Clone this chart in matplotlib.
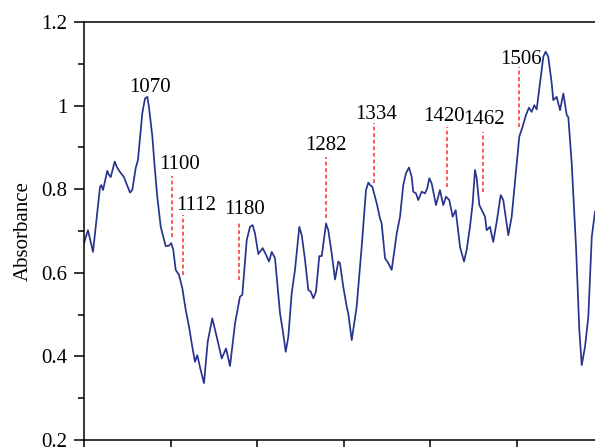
import numpy as np
import matplotlib.pyplot as plt
from matplotlib.ticker import MultipleLocator, FuncFormatter

plt.rcParams['font.family'] = ['Liberation Serif', 'DejaVu Serif']

# FTIR absorbance spectrum
wavenumber = [1000, 1004.6, 1010.4, 1018.5, 1020, 1022, 1026.9, 1028.9, 1030.9, 1035.5,
              1038.5, 1042.4, 1046.2, 1048.2, 1053.2, 1055.8, 1059.8, 1062.4, 1067.4, 1070.5,
              1073.2, 1075.1, 1079, 1081.7, 1084.7, 1088.7, 1094.4, 1098.3, 1100.9, 1103.2,
              1106, 1109.8, 1113.6, 1117.6, 1121.4, 1125.2, 1128.3, 1131, 1134.9, 1138.7,
              1143, 1148.3, 1153.4, 1159.2, 1164.2, 1168.8, 1174.6, 1180.3, 1183, 1188.1,
              1191.9, 1195, 1197.7, 1201.5, 1206.6, 1210.4, 1213.9, 1217, 1220.8, 1226.6,
              1229.7, 1233.2, 1236.2, 1240.1, 1243.9, 1248.9, 1251.7, 1255.5, 1259.3, 1262.1,
              1265.1, 1268.2, 1272, 1274.8, 1279.8, 1282.4, 1286.3, 1290.2, 1294, 1295.9,
              1299.7, 1303.7, 1305.5, 1309.5, 1315.2, 1321, 1326, 1328.7, 1330.6, 1333.3,
              1338.4, 1342.2, 1344.1, 1348, 1351.8, 1355.7, 1361.5, 1365.3, 1369.1, 1372.2,
              1375.7, 1378.8, 1380.6, 1383.8, 1386.4, 1390.4, 1394.2, 1396.8, 1399.2, 1401.9,
              1406.9, 1411.5, 1415.3, 1418.5, 1422.3, 1426.2, 1429.7, 1434.7, 1439.3, 1442.4,
              1446.2, 1449.3, 1452, 1454, 1457, 1460.9, 1463.6, 1465.5, 1469.3, 1473.1,
              1477.1, 1481.7, 1484.7, 1490.5, 1494.4, 1500.2, 1503.2, 1507.1, 1511, 1514.4,
              1517.5, 1520.5, 1523.3, 1527.1, 1531, 1533.7, 1536.7, 1540.7, 1542.5, 1546.4,
              1550.3, 1554.1, 1558, 1559.9, 1563.8, 1568.8, 1572.6, 1575.4, 1579.2, 1583,
              1587, 1590.7]
absorbance = [0.671, 0.702, 0.650, 0.805, 0.810, 0.798, 0.844, 0.834, 0.829, 0.866,
              0.851, 0.839, 0.829, 0.818, 0.792, 0.798, 0.851, 0.870, 0.982, 1.017,
              1.021, 0.997, 0.926, 0.854, 0.782, 0.710, 0.664, 0.665, 0.671, 0.655,
              0.607, 0.595, 0.564, 0.511, 0.471, 0.423, 0.387, 0.403, 0.367, 0.336,
              0.435, 0.491, 0.447, 0.395, 0.419, 0.377, 0.479, 0.543, 0.547, 0.678,
              0.710, 0.714, 0.694, 0.645, 0.659, 0.643, 0.627, 0.650, 0.635, 0.503,
              0.463, 0.411, 0.447, 0.551, 0.607, 0.710, 0.690, 0.631, 0.559, 0.555,
              0.539, 0.555, 0.640, 0.640, 0.718, 0.702, 0.647, 0.584, 0.627, 0.623,
              0.567, 0.519, 0.503, 0.439, 0.519, 0.662, 0.798, 0.816, 0.810, 0.806,
              0.766, 0.730, 0.718, 0.635, 0.623, 0.607, 0.694, 0.734, 0.810, 0.838,
              0.852, 0.830, 0.794, 0.790, 0.774, 0.794, 0.790, 0.802, 0.826, 0.814,
              0.762, 0.798, 0.762, 0.782, 0.774, 0.734, 0.750, 0.662, 0.627, 0.655,
              0.710, 0.766, 0.846, 0.826, 0.762, 0.746, 0.734, 0.702, 0.710, 0.674,
              0.722, 0.786, 0.774, 0.690, 0.734, 0.862, 0.926, 0.950, 0.978, 0.995,
              0.985, 1.001, 0.991, 1.053, 1.117, 1.129, 1.117, 1.053, 1.013, 1.021,
              0.989, 1.029, 0.978, 0.972, 0.862, 0.662, 0.463, 0.379, 0.423, 0.495,
              0.686, 0.746]

# band labels: text, text position, dashed marker position and extent
band_labels = ['1070', '1100', '1112', '1180', '1282', '1334', '1420', '1462', '1506']
label_x = [1076, 1111, 1129.5, 1185.7, 1280, 1338, 1416.7, 1462, 1505.5]
label_y = [1.033, 0.848, 0.750, 0.741, 0.894, 0.967, 0.964, 0.956, 1.099]
marker_x = [None, 1102, 1114, 1179, 1280, 1335.6, 1419.6, 1461.6, 1502.8]
marker_top = [None, 0.832, 0.738, 0.725, 0.876, 0.958, 0.950, 0.938, 1.093]
marker_bottom = [None, 0.686, 0.595, 0.583, 0.730, 0.814, 0.806, 0.793, 0.950]

fig = plt.figure(figsize=(5.95, 4.47), dpi=100)
ax = fig.add_axes([0.14118, 0.01566, 0.8723, 0.9351])

ax.plot(wavenumber, absorbance, color='#26348c', linewidth=1.25)

for i, txt in enumerate(band_labels):
    if marker_x[i] is not None:
        ax.plot([marker_x[i], marker_x[i]], [marker_bottom[i], marker_top[i]],
                color='#ff2a2a', linewidth=1.1, linestyle=(0, (2.5, 1.8)))
    ax.text(label_x[i], label_y[i], txt, ha='center', va='baseline', fontsize=15)

ax.set_xlim(1000, 1600)
ax.set_ylim(0.2, 1.2)
ax.xaxis.set_major_locator(MultipleLocator(100))
ax.yaxis.set_major_locator(MultipleLocator(0.2))
ax.yaxis.set_minor_locator(MultipleLocator(0.1))
ax.yaxis.set_major_formatter(FuncFormatter(lambda v, p: '%g' % round(v, 2)))

ax.tick_params(axis='both', which='major', direction='out', length=7, width=1.1,
               labelsize=15, pad=5)
ax.tick_params(axis='x', labelbottom=False)
ax.tick_params(axis='y', which='minor', direction='out', length=4, width=1.1)
for s in ax.spines.values():
    s.set_linewidth(1.1)

ax.set_ylabel('Absorbance', fontsize=15, labelpad=6)

fig.savefig('out.png', dpi=100)
